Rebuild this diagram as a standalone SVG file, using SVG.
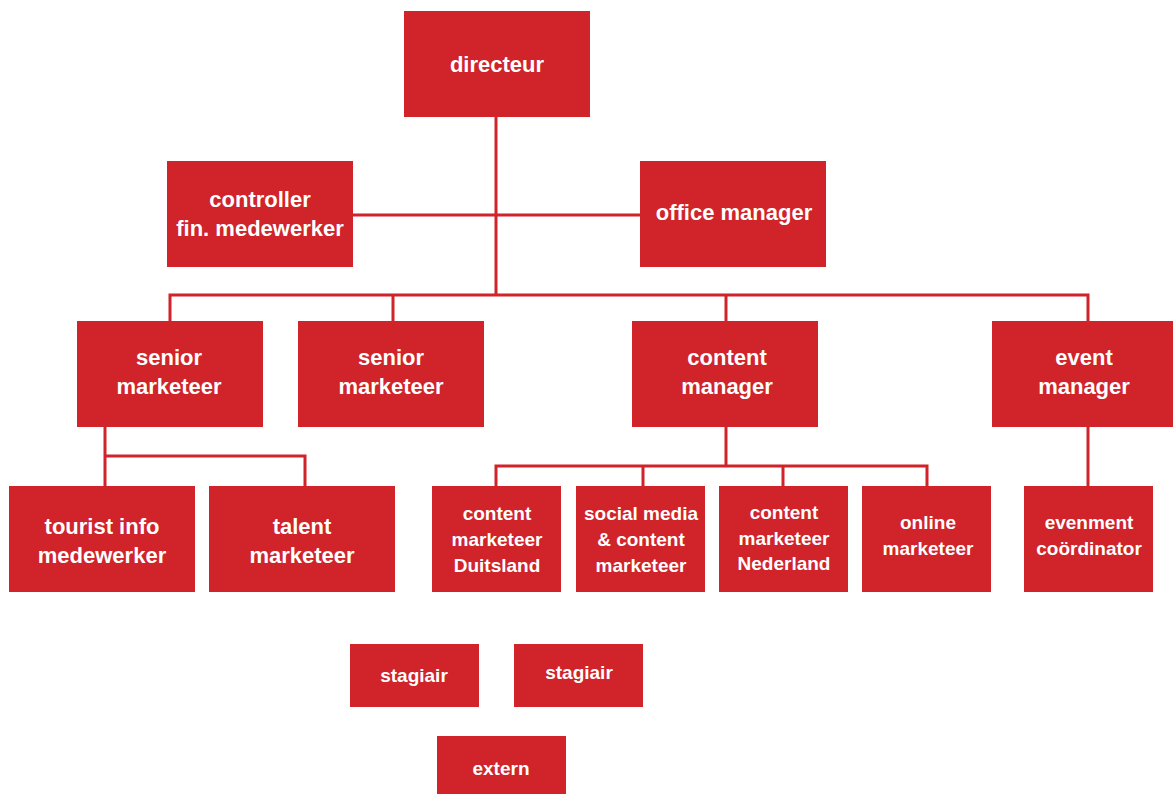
<svg xmlns="http://www.w3.org/2000/svg" width="1173" height="794" viewBox="0 0 1173 794">
<style>
.b{fill:#D0232A}
text{fill:#fff;font-family:"Liberation Sans Narrow","Liberation Sans",Arial,sans-serif;font-weight:bold;text-anchor:middle}
.l{font-size:22px}
.s{font-size:19px}
.c{stroke:#D0232A;stroke-width:3;fill:none}
</style>
<rect width="1173" height="794" fill="#fff"/>
<g id="connectors" class="c">
<path d="M496 116V295"/>
<path d="M353 215H640"/>
<path d="M170 321V295H1088V321"/>
<path d="M393 295V321"/>
<path d="M726 295V321"/>
<path d="M105 427V486"/>
<path d="M105 456H305V486"/>
<path d="M726 427V466"/>
<path d="M496 486V466H927V486"/>
<path d="M643 466V486"/>
<path d="M783 466V486"/>
<path d="M1088 427V486"/>
</g>
<g id="directeur"><rect class="b" x="404" y="11" width="186" height="106"/><text class="l" x="497" y="72">directeur</text></g>
<g id="controller"><rect class="b" x="167" y="161" width="186" height="106"/><text class="l" x="260" y="207">controller</text><text class="l" x="260" y="236">fin. medewerker</text></g>
<g id="office-manager"><rect class="b" x="640" y="161" width="186" height="106"/><text class="l" x="734" y="220">office manager</text></g>
<g id="senior-marketeer-1"><rect class="b" x="77" y="321" width="186" height="106"/><text class="l" x="169" y="365">senior</text><text class="l" x="169" y="394">marketeer</text></g>
<g id="senior-marketeer-2"><rect class="b" x="298" y="321" width="186" height="106"/><text class="l" x="391" y="365">senior</text><text class="l" x="391" y="394">marketeer</text></g>
<g id="content-manager"><rect class="b" x="632" y="321" width="186" height="106"/><text class="l" x="727" y="365">content</text><text class="l" x="727" y="394">manager</text></g>
<g id="event-manager"><rect class="b" x="992" y="321" width="181" height="106"/><text class="l" x="1084" y="365">event</text><text class="l" x="1084" y="394">manager</text></g>
<g id="tourist-info"><rect class="b" x="9" y="486" width="186" height="106"/><text class="l" x="102" y="534">tourist info</text><text class="l" x="102" y="563">medewerker</text></g>
<g id="talent-marketeer"><rect class="b" x="209" y="486" width="186" height="106"/><text class="l" x="302" y="534">talent</text><text class="l" x="302" y="563">marketeer</text></g>
<g id="content-marketeer-duitsland"><rect class="b" x="432" y="486" width="129" height="106"/><text class="s" x="497" y="520">content</text><text class="s" x="497" y="546">marketeer</text><text class="s" x="497" y="572">Duitsland</text></g>
<g id="social-media"><rect class="b" x="576" y="486" width="129" height="106"/><text class="s" x="641" y="520">social media</text><text class="s" x="641" y="546">&amp; content</text><text class="s" x="641" y="572">marketeer</text></g>
<g id="content-marketeer-nederland"><rect class="b" x="719" y="486" width="129" height="106"/><text class="s" x="784" y="519">content</text><text class="s" x="784" y="545">marketeer</text><text class="s" x="784" y="570">Nederland</text></g>
<g id="online-marketeer"><rect class="b" x="862" y="486" width="129" height="106"/><text class="s" x="928" y="529">online</text><text class="s" x="928" y="555">marketeer</text></g>
<g id="evenement-coordinator"><rect class="b" x="1024" y="486" width="129" height="106"/><text class="s" x="1089" y="529">evenment</text><text class="s" x="1089" y="555">coördinator</text></g>
<g id="stagiair-1"><rect class="b" x="350" y="644" width="129" height="63"/><text class="s" x="414" y="682">stagiair</text></g>
<g id="stagiair-2"><rect class="b" x="514" y="644" width="129" height="63"/><text class="s" x="579" y="679">stagiair</text></g>
<g id="extern"><rect class="b" x="437" y="736" width="129" height="58"/><text class="s" x="501" y="775">extern</text></g>
</svg>
